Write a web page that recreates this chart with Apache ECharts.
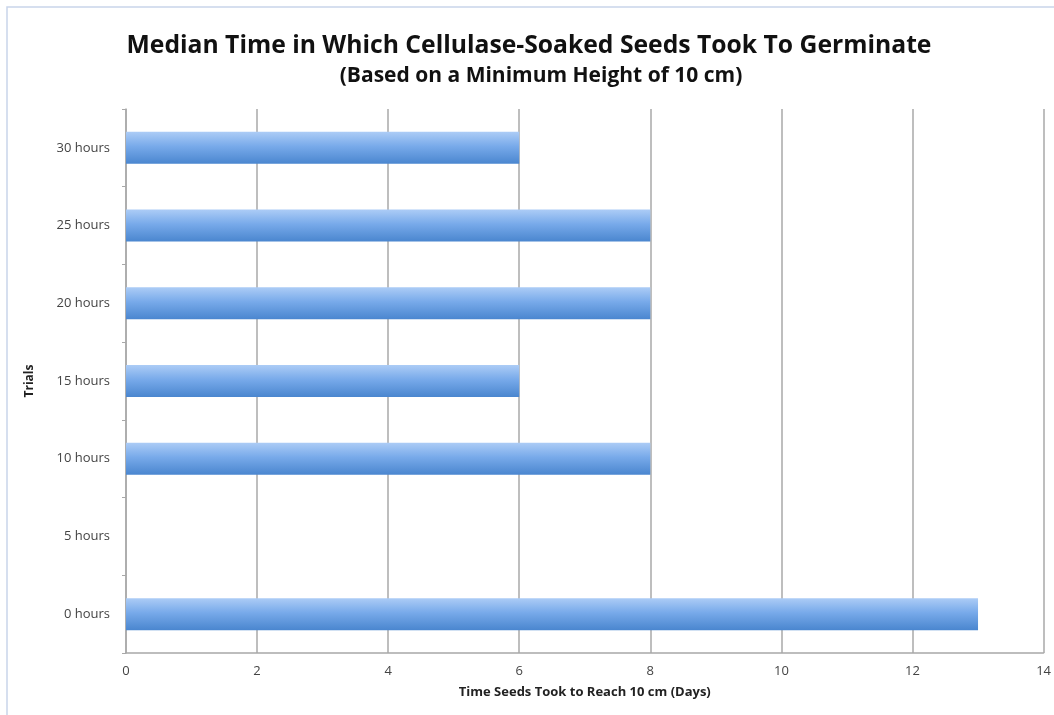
<!DOCTYPE html>
<html>
<head>
<meta charset="utf-8">
<script src="https://cdn.jsdelivr.net/npm/echarts@6/dist/echarts.min.js"></script>
<style>
  html, body { margin: 0; padding: 0; background: #fff; }
  #chart { width: 1054px; height: 715px; }
</style>
</head>
<body>
<div id="chart"></div>
<script>
// trials (soak time), bottom to top
var trials = ['0 hours', '5 hours', '10 hours', '15 hours', '20 hours', '25 hours', '30 hours']
// median days to reach 10 cm
var medianDays = [13, 0, 8, 6, 8, 8, 6]
var dayTicks = [0, 2, 4, 6, 8, 10, 12, 14]

var font = "'Open Sans', sans-serif"

var chart = echarts.init(document.getElementById('chart'))

var option = {
  backgroundColor: '#fff',
  animation: false,
  title: [
    {
      text: 'Median Time in Which Cellulase-Soaked Seeds Took To Germinate',
      left: 524,
      top: 28,
      textAlign: 'center',
      textStyle: { fontFamily: font, fontSize: 24.7, fontWeight: 'bold', color: '#111' }
    },
    {
      text: '(Based on a Minimum Height of 10 cm)',
      left: 536,
      top: 61,
      textAlign: 'center',
      textStyle: { fontFamily: font, fontSize: 21, fontWeight: 'bold', color: '#111' }
    }
  ],
  // light frame around the picture
  graphic: [
    {
      type: 'rect',
      shape: { x: 7, y: 7, width: 1100, height: 800 },
      style: { fill: 'none', stroke: '#c9d5ea', lineWidth: 1.5 },
      silent: true
    }
  ],
  grid: {
    left: 126,
    right: 9,
    top: 109,
    bottom: 62
  },
  xAxis: {
    type: 'value',
    min: dayTicks[0],
    max: dayTicks[dayTicks.length - 1],
    interval: 2,
    name: 'Time Seeds Took to Reach 10 cm (Days)',
    nameLocation: 'middle',
    nameGap: 33,
    nameTextStyle: { fontFamily: font, fontSize: 13, fontWeight: 'bold', color: '#222' },
    axisLine: { show: true, lineStyle: { color: '#a8a8a8', width: 1.5 } },
    axisTick: { show: false },
    axisLabel: { fontFamily: font, fontSize: 13, color: '#444', margin: 12 },
    splitLine: { show: true, lineStyle: { color: '#a8a8a8', width: 1.5 } }
  },
  yAxis: {
    type: 'category',
    data: trials,
    name: 'Trials',
    nameLocation: 'middle',
    nameGap: 90,
    nameRotate: 90,
    nameTextStyle: { fontFamily: font, fontSize: 12, fontWeight: 'bold', color: '#222' },
    axisLine: { show: true, lineStyle: { color: '#a8a8a8', width: 1.5 } },
    axisTick: { show: true, length: 4, lineStyle: { color: '#a8a8a8' } },
    axisLabel: { fontFamily: font, fontSize: 13, color: '#444', margin: 16 }
  },
  series: [
    {
      name: 'Median days',
      type: 'bar',
      barWidth: 32,
      itemStyle: {
        color: new echarts.graphic.LinearGradient(0, 0, 0, 1, [
          { offset: 0, color: '#acccf6' },
          { offset: 0.45, color: '#78aaea' },
          { offset: 1, color: '#4a86cf' }
        ])
      },
      data: medianDays
    }
  ]
}

chart.setOption(option)
</script>
</body>
</html>
